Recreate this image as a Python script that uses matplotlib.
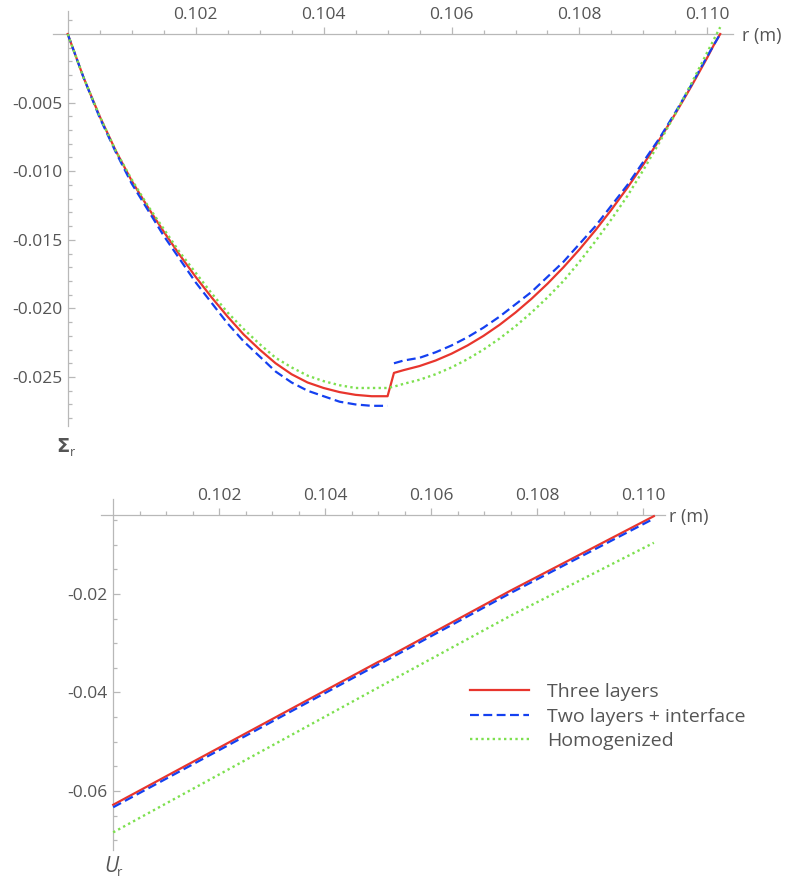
import matplotlib
matplotlib.use('Agg')
import matplotlib.pyplot as plt
from matplotlib.ticker import FixedLocator, FixedFormatter

plt.rcParams['font.family'] = ['Open Sans', 'DejaVu Sans']
plt.rcParams['axes.unicode_minus'] = False

# radial stress, inner part / outer part (r in m)
r_left = [0.1000, 0.10025, 0.1005, 0.10075, 0.1010, 0.10125, 0.1015, 0.10175, 0.1020, 0.10225, 0.1025,
          0.10275, 0.1030, 0.10325, 0.1035, 0.10375, 0.1040, 0.10425, 0.1045, 0.10475, 0.1050]
r_right = [0.1051, 0.10525, 0.1055, 0.10575, 0.1060, 0.10625, 0.1065, 0.10675, 0.1070, 0.10725, 0.1075,
           0.10775, 0.1080, 0.10825, 0.1085, 0.10875, 0.1090, 0.10925, 0.1095, 0.10975, 0.1100, 0.1101, 0.1102]

red_left = [0, -0.0032, -0.0060, -0.0085, -0.0107, -0.0126, -0.0144, -0.0161, -0.0177, -0.0192, -0.0206,
            -0.0219, -0.0230, -0.0240, -0.0248, -0.0254, -0.0258, -0.0261, -0.0263, -0.0264, -0.0264]
red_right = [-0.0247, -0.0245, -0.0242, -0.0238, -0.0233, -0.0227, -0.0220, -0.0212, -0.0203, -0.0193, -0.0182,
             -0.0170, -0.0157, -0.0143, -0.0128, -0.0112, -0.0095, -0.0077, -0.0058, -0.0038, -0.0017, -0.0008, 0.0]
blue_left = [0, -0.0032, -0.0061, -0.0086, -0.0109, -0.0128, -0.0147, -0.0164, -0.0181, -0.0196, -0.0211,
             -0.0224, -0.0235, -0.0246, -0.0254, -0.0260, -0.0264, -0.0268, -0.0270, -0.0271, -0.0271]
blue_right = [-0.0240, -0.0238, -0.0236, -0.0232, -0.0227, -0.0221, -0.0214, -0.0206, -0.0197, -0.0188, -0.0177,
              -0.0166, -0.0153, -0.0140, -0.0125, -0.0110, -0.0093, -0.0076, -0.0057, -0.0037, -0.0016, -0.0008, 0.0]
green_left = [0, -0.0032, -0.0060, -0.0085, -0.0106, -0.0125, -0.0142, -0.0159, -0.0174, -0.0189, -0.0203,
              -0.0215, -0.0226, -0.0236, -0.0243, -0.0249, -0.0253, -0.0256, -0.0258, -0.0258, -0.0258]
green_right = [-0.0257, -0.0255, -0.0252, -0.0248, -0.0243, -0.0237, -0.0230, -0.0222, -0.0213, -0.0203, -0.0192,
               -0.0180, -0.0166, -0.0151, -0.0135, -0.0118, -0.0099, -0.0079, -0.0058, -0.0036, -0.0013, -0.0004, 0.0005]

# radial displacement
r_u = [0.1000, 0.1025, 0.1050, 0.1051, 0.1075, 0.1102]
red_u = [-0.0628, -0.0483, -0.0338, -0.0333, -0.0193, -0.0042]
blue_u = [-0.0633, -0.0488, -0.0343, -0.0338, -0.0198, -0.0047]
r_hom = [0.1000, 0.1025, 0.1050, 0.1075, 0.1102]
green_u = [-0.0684, -0.0537, -0.0390, -0.0244, -0.0096]

x_major = [0.102, 0.104, 0.106, 0.108, 0.110]
x_labels = ['0.102', '0.104', '0.106', '0.108', '0.110']
sig_major = [-0.005, -0.010, -0.015, -0.020, -0.025]
sig_labels = ['-0.005', '-0.010', '-0.015', '-0.020', '-0.025']
u_major = [-0.02, -0.04, -0.06]
u_labels = ['-0.02', '-0.04', '-0.06']
series_names = ['Three layers', 'Two layers + interface', 'Homogenized']

RED = '#e8352d'
BLUE = '#1440f0'
GREEN = '#7de04f'
AXC = '#b8b8b8'
TXT = '#555555'
DASH = (0, (4, 2))
DOT = (0, (1, 1.4))

W, H = 785, 881
fig = plt.figure(figsize=(W / 100, H / 100), dpi=100)


def px_axes(x0, x1, y0, y1):
    return fig.add_axes([x0 / W, 1 - y1 / H, (x1 - x0) / W, (y1 - y0) / H])


def style(ax, xorig, yorig, ymajor, ylabels, yminor):
    for s in ['right', 'bottom']:
        ax.spines[s].set_visible(False)
    ax.spines['left'].set_position(('data', xorig))
    ax.spines['top'].set_position(('data', yorig))
    for s in ['left', 'top']:
        ax.spines[s].set_color(AXC)
        ax.spines[s].set_linewidth(0.9)
    ax.xaxis.set_ticks_position('top')
    ax.yaxis.set_ticks_position('left')
    ax.xaxis.set_major_locator(FixedLocator(x_major))
    ax.xaxis.set_major_formatter(FixedFormatter(x_labels))
    xminor = [0.1 + 0.0005 * i for i in range(21) if i % 4 != 0]
    ax.xaxis.set_minor_locator(FixedLocator(xminor))
    ax.yaxis.set_major_locator(FixedLocator(ymajor))
    ax.yaxis.set_major_formatter(FixedFormatter(ylabels))
    ax.yaxis.set_minor_locator(FixedLocator(yminor))
    ax.tick_params(axis='x', which='both', direction='out', color=AXC, width=0.9,
                   labelcolor=TXT, labelsize=12.5, pad=3)
    ax.tick_params(axis='y', which='both', direction='in', color=AXC, width=0.9,
                   labelcolor=TXT, labelsize=12.5, pad=4)
    ax.tick_params(which='major', length=5)
    ax.tick_params(which='minor', length=3)
    ax.patch.set_alpha(0)


# ---- top: stress
ax1 = px_axes(53, 733, 10.7, 426.4)
ax1.set_xlim(0.09977, 0.11040)
ax1.set_ylim(-0.0286, 0.0017)
ax1.plot(r_left + r_right, red_left + red_right, color=RED, lw=1.6, zorder=3)
ax1.plot(r_left, blue_left, color=BLUE, lw=1.6, ls=DASH, zorder=4)
ax1.plot(r_right, blue_right, color=BLUE, lw=1.6, ls=DASH, zorder=4)
ax1.plot(r_left + r_right, green_left + green_right, color=GREEN, lw=1.7, ls=DOT, zorder=5)
sig_minor = [round(0.001 - 0.001 * i, 3) for i in range(30) if i % 5 != 1]
style(ax1, 0.100, 0.0, sig_major, sig_labels, sig_minor)
fig.text(742 / W, 1 - 36 / H, 'r (m)', color=TXT, fontsize=13, va='center', ha='left')
fig.text(63 / W, 1 - 447 / H, '\u03a3', color=TXT, fontsize=14, fontweight='bold',
         va='center', ha='center', family=['DejaVu Sans'])
fig.text(70 / W, 1 - 452 / H, 'r', color=TXT, fontsize=9, va='center', ha='left')

# ---- bottom: displacement
ax2 = px_axes(101, 665, 499.4, 850.1)
ax2.set_xlim(0.09977, 0.11041)
ax2.set_ylim(-0.0720, -0.0008)
l1, = ax2.plot(r_u, red_u, color=RED, lw=1.6, zorder=3)
l2, = ax2.plot(r_u, blue_u, color=BLUE, lw=1.6, ls=DASH, zorder=4)
l3, = ax2.plot(r_hom, green_u, color=GREEN, lw=1.7, ls=DOT, zorder=5)
u_minor = [round(-0.005 * i, 3) for i in range(1, 15) if i % 4 != 0]
style(ax2, 0.100, -0.0040, u_major, u_labels, u_minor)
fig.text(669 / W, 1 - 517 / H, 'r (m)', color=TXT, fontsize=13, va='center', ha='left')
fig.text(111 / W, 1 - 866 / H, 'U', color=TXT, fontsize=15, style='italic', va='center', ha='center')
fig.text(117 / W, 1 - 872 / H, 'r', color=TXT, fontsize=9.5, va='center', ha='left')

leg = ax2.legend([l1, l2, l3], series_names,
                 loc='upper left', bbox_to_anchor=(470 / W, 1 - 683 / H), bbox_transform=fig.transFigure,
                 frameon=False, borderaxespad=0, borderpad=0, fontsize=14,
                 handlelength=3.05, handletextpad=0.93, labelspacing=0.34)
for t in leg.get_texts():
    t.set_color(TXT)

fig.savefig('out.png', dpi=100)
